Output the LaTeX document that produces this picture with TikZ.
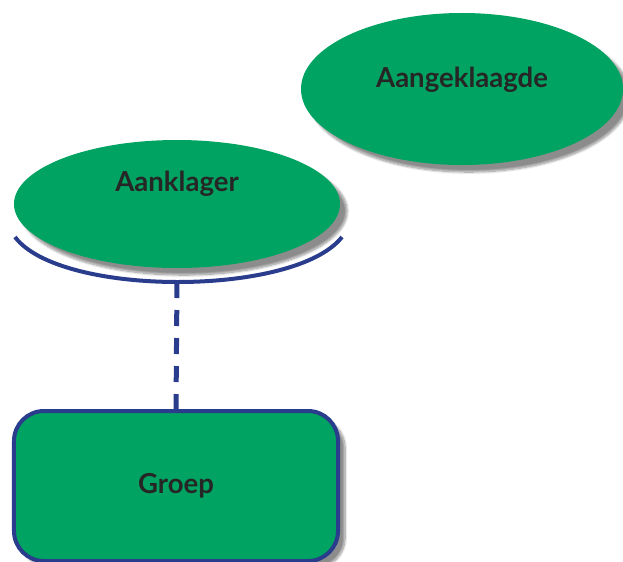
\documentclass[tikz,border=0pt]{standalone}
\usepackage{fontspec}
\setmainfont{Lato}
\usetikzlibrary{shapes.geometric,shadows.blur}

\definecolor{partygreen}{RGB}{0,163,97}
\definecolor{linknavy}{RGB}{42,60,140}

\tikzset{
  party/.style={ellipse, fill=partygreen, draw=none, inner sep=0pt,
    blur shadow={shadow xshift=6pt, shadow yshift=-6pt, shadow blur steps=10, shadow opacity=45}},
  partytext/.style={font=\bfseries\fontsize{23.5}{25}\selectfont, text=black!85},
  groupbox/.style={rectangle, rounded corners=0.9cm, fill=partygreen, draw=linknavy,
    line width=0.12cm, inner sep=0pt, partytext,
    blur shadow={shadow xshift=6pt, shadow yshift=-6pt, shadow blur steps=10, shadow opacity=45}},
  link/.style={draw=linknavy, line width=0.15cm, dash pattern=on 0.48cm off 0.36cm}
}

\begin{document}
\begin{tikzpicture}[x=0.03cm, y=-0.03cm]
  \useasboundingbox (0,0) rectangle (623,561);
  % the two parties
  \node[party, minimum width=9.66cm, minimum height=4.56cm,
    label={[partytext, yshift=0.27cm]center:Aangeklaagde}] (aangeklaagde) at (462,89) {};
  \node[party, minimum width=9.78cm, minimum height=3.84cm,
    label={[partytext, yshift=0.6cm]center:Aanklager}] (aanklager) at (177,204) {};
  % bracket under the accuser
  \coordinate (bracketL) at (15,237);
  \coordinate (bracketR) at (342,237);
  \coordinate (bracketB) at (177,282);
  \draw[linknavy, line width=0.12cm] (bracketL) .. controls (60,297) and (295,297) .. (bracketR);
  % the group
  \node[groupbox, minimum width=9.72cm, minimum height=4.5cm] (groep) at (176,486) {Groep};
  \path[link] (bracketB) -- (groep.north);
\end{tikzpicture}
\end{document}
